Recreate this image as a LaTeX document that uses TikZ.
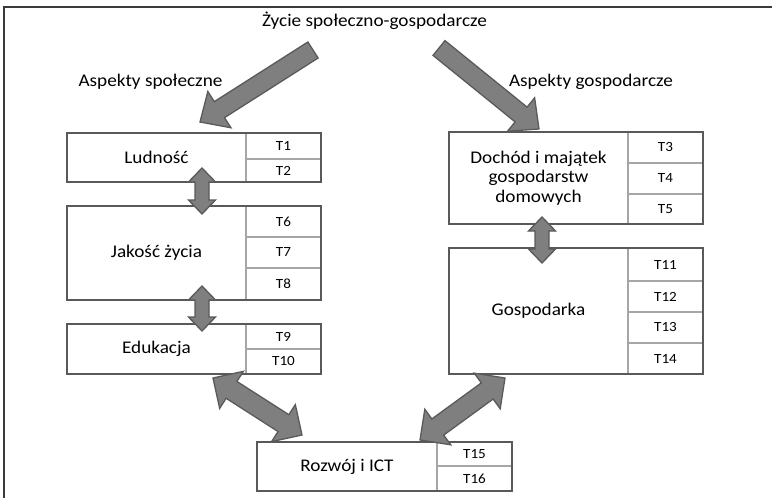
\documentclass[tikz,border=0pt]{standalone}
\usepackage{fontspec}
\setmainfont{Carlito}[FakeStretch=1.08]
\usetikzlibrary{calc}
\definecolor{boxline}{HTML}{595959}
\definecolor{divline}{HTML}{A6A6A6}
\definecolor{arrfill}{HTML}{7F7F7F}
\definecolor{arrline}{HTML}{5A5A5A}
\definecolor{frameline}{HTML}{3A3A3A}
\tikzset{
  mainpart/.style={rectangle, inner sep=0pt, outer sep=0pt, anchor=north west, align=center,
    font=\fontsize{17.8}{19.5}\selectfont},
  tcellbox/.style={rectangle, draw=divline, line width=1.2pt, inner sep=0pt, outer sep=0pt,
    anchor=north west, minimum width=75pt, font=\fontsize{14}{15}\selectfont},
  outerbox/.style={draw=boxline, line width=2.6pt},
  lbl/.style={inner sep=0pt, font=\fontsize{17.8}{19}\selectfont},
  arrowshape/.style={fill=arrfill, draw=arrline, line width=1.3pt, line join=miter},
}
\newcommand\blockarrow[5]{%
  \path (#1); \pgfgetlastxy{\baXa}{\baYa}%
  \path (#2); \pgfgetlastxy{\baXb}{\baYb}%
  \pgfmathsetmacro\baAng{atan2(\baYb-\baYa,\baXb-\baXa)}%
  \pgfmathsetmacro\baLen{veclen(\baXb-\baXa,\baYb-\baYa)/1pt}%
  \pgfmathsetmacro\baS{#3/2}\pgfmathsetmacro\baH{#4/2}\pgfmathsetmacro\baB{\baLen-#5}%
  \draw[arrowshape, shift={(\baXa,\baYa)}, rotate=\baAng] (0,-\baS) -- (\baB,-\baS) -- (\baB,-\baH)
    -- (\baLen,0) -- (\baB,\baH) -- (\baB,\baS) -- (0,\baS) -- cycle;
}
\newcommand\dblblockarrow[5]{%
  \path (#1); \pgfgetlastxy{\baXa}{\baYa}%
  \path (#2); \pgfgetlastxy{\baXb}{\baYb}%
  \pgfmathsetmacro\baAng{atan2(\baYb-\baYa,\baXb-\baXa)}%
  \pgfmathsetmacro\baLen{veclen(\baXb-\baXa,\baYb-\baYa)/1pt}%
  \pgfmathsetmacro\baS{#3/2}\pgfmathsetmacro\baH{#4/2}\pgfmathsetmacro\baB{\baLen-#5}%
  \draw[arrowshape, shift={(\baXa,\baYa)}, rotate=\baAng] (0,0) -- (#5,\baH) -- (#5,\baS)
    -- (\baB,\baS) -- (\baB,\baH) -- (\baLen,0) -- (\baB,-\baH) -- (\baB,-\baS)
    -- (#5,-\baS) -- (#5,-\baH) -- cycle;
}
\begin{document}
\begin{tikzpicture}[x=1pt,y=-1pt]
\useasboundingbox (0,0) rectangle (772,498);
\fill[white] (0,0) rectangle (772,498);
% frame
\draw[frameline, line width=1.5pt] (4,498) -- (4,7) -- (772,7);

% labels
\node[lbl] (title) at (374.5,21) {Życie społeczno-gospodarcze};
\node[lbl] (aspspol) at (150.5,82) {Aspekty społeczne};
\node[lbl] (aspgosp) at (591,82) {Aspekty gospodarcze};

% Ludnosc
\node[mainpart, minimum width=179pt, minimum height=49pt] (lud) at (67,133) {Ludność};
\node[tcellbox, minimum height=26pt] (t1) at (246,133) {T1};
\node[tcellbox, minimum height=23pt] (t2) at (246,159) {T2};
\draw[outerbox] (lud.north west) rectangle (t2.south east);

% Jakosc zycia
\node[mainpart, minimum width=179pt, minimum height=94pt] (jak) at (67,206) {Jakość życia};
\node[tcellbox, minimum height=31pt] (t6) at (246,206) {T6};
\node[tcellbox, minimum height=31pt] (t7) at (246,237) {T7};
\node[tcellbox, minimum height=32pt] (t8) at (246,268) {T8};
\draw[outerbox] (jak.north west) rectangle (t8.south east);

% Edukacja
\node[mainpart, minimum width=179pt, minimum height=50pt] (edu) at (67,324) {Edukacja};
\node[tcellbox, minimum height=25pt] (t9) at (246,324) {T9};
\node[tcellbox, minimum height=25pt] (t10) at (246,349) {T10};
\draw[outerbox] (edu.north west) rectangle (t10.south east);

% Dochod
\node[mainpart, minimum width=179pt, minimum height=92pt] (doch) at (449,132) {Dochód i majątek\\gospodarstw\\domowych};
\node[tcellbox, minimum height=31pt] (t3) at (628,132) {T3};
\node[tcellbox, minimum height=31pt] (t4) at (628,163) {T4};
\node[tcellbox, minimum height=30pt] (t5) at (628,194) {T5};
\draw[outerbox] (doch.north west) rectangle (t5.south east);

% Gospodarka
\node[mainpart, minimum width=179pt, minimum height=126pt] (gosp) at (449,248) {Gospodarka};
\node[tcellbox, minimum height=33pt] (t11) at (628,248) {T11};
\node[tcellbox, minimum height=31pt] (t12) at (628,281) {T12};
\node[tcellbox, minimum height=31pt] (t13) at (628,312) {T13};
\node[tcellbox, minimum height=31pt] (t14) at (628,343) {T14};
\draw[outerbox] (gosp.north west) rectangle (t14.south east);

% Rozwoj i ICT
\node[mainpart, minimum width=180pt, minimum height=49pt] (roz) at (257,442) {Rozwój i ICT};
\node[tcellbox, minimum height=24pt] (t15) at (437,442) {T15};
\node[tcellbox, minimum height=25pt] (t16) at (437,466) {T16};
\draw[outerbox] (roz.north west) rectangle (t16.south east);

% arrow end points
\coordinate (a1s) at (313,50);
\coordinate (a1e) at (200,122);
\coordinate (a2s) at (439,48);
\coordinate (a2e) at (539,129);
\coordinate (v1a) at (202,168);
\coordinate (v1b) at (202,214);
\coordinate (v2a) at (202,286);
\coordinate (v2b) at (202,331);
\coordinate (v3a) at (542,217);
\coordinate (v3b) at (542,263);
\coordinate (d1a) at (213,378);
\coordinate (d1b) at (302,435);
\coordinate (d2a) at (505,378);
\coordinate (d2b) at (420,440);

% arrows
\blockarrow{a1s}{a1e}{19}{43}{23}
\blockarrow{a2s}{a2e}{19}{43}{23}
\dblblockarrow{v1a}{v1b}{14}{27}{14}
\dblblockarrow{v2a}{v2b}{14}{27}{14}
\dblblockarrow{v3a}{v3b}{14}{27}{14}
\dblblockarrow{d1a}{d1b}{20}{44}{22}
\dblblockarrow{d2a}{d2b}{20}{44}{22}
\end{tikzpicture}
\end{document}
